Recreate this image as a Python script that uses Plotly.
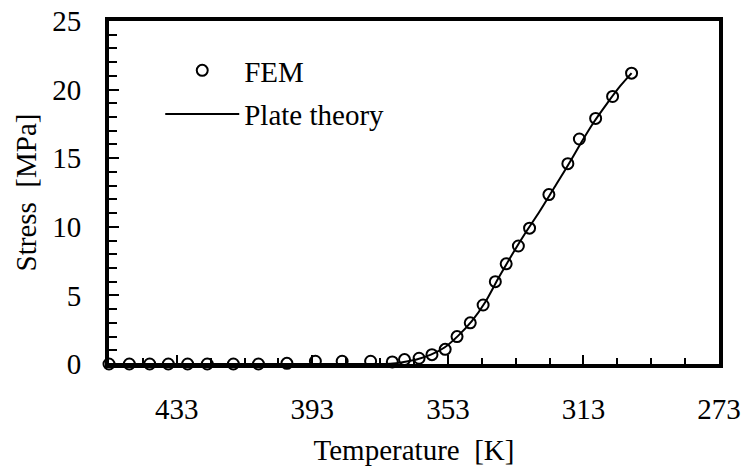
import plotly.graph_objects as go

# FEM results: temperature [K] and stress [MPa]
fem_T = [453, 447, 441, 435.5, 429.8, 424, 416.3, 408.9, 400.5, 392.1, 384.2, 375.8,
         369.4, 365.8, 361.5, 357.7, 353.8, 350.3, 346.4, 342.6, 339.0, 335.8,
         332.2, 328.9, 323.2, 317.6, 314.2, 309.4, 304.4, 298.8]
fem_S = [0, 0, 0, 0, 0, 0, 0, 0, 0.05, 0.2, 0.2, 0.2,
         0.15, 0.32, 0.42, 0.68, 1.07, 2.0, 3.0, 4.3, 6.0, 7.3,
         8.6, 9.9, 12.35, 14.6, 16.4, 17.9, 19.5, 21.2]

# Plate theory curve
theory_T = [453, 430, 400, 385, 375, 370, 366, 362, 358, 354, 350, 346, 342, 338,
            334, 330, 326, 322, 318, 314, 310, 306, 302, 298.8]
theory_S = [0, 0, 0, 0, 0, 0.02, 0.15, 0.35, 0.68, 1.2, 2.05, 3.1, 4.5, 6.3,
            8.0, 9.6, 11.1, 12.7, 14.3, 16.0, 17.6, 19.0, 20.3, 21.2]

x_ticks = [433, 393, 353, 313, 273]
y_ticks = [0, 5, 10, 15, 20, 25]

FONT = "Liberation Serif, Times New Roman, serif"

fig = go.Figure()
fig.add_trace(go.Scatter(
    x=fem_T, y=fem_S, mode="markers", name="FEM", legendgroup="a",
    marker=dict(symbol="circle-open", size=11, color="black", line=dict(width=2, color="black")),
    cliponaxis=False,
))
fig.add_trace(go.Scatter(
    x=theory_T, y=theory_S, mode="lines", name="Plate theory", legendgroup="b",
    line=dict(color="black", width=2, shape="spline", smoothing=0.6),
))

fig.update_layout(
    width=744, height=473,
    margin=dict(l=109, r=25, t=21, b=109),
    paper_bgcolor="white", plot_bgcolor="white",
    font=dict(family=FONT, size=29, color="black"),
    showlegend=True,
    legend=dict(x=0.084, y=0.93, xanchor="left", yanchor="top",
                bgcolor="rgba(0,0,0,0)", tracegroupgap=3,
                font=dict(family=FONT, size=29, color="black"),
                itemwidth=74),
    xaxis=dict(
        range=[453, 273], tickmode="array", tickvals=x_ticks,
        ticks="inside", ticklen=9, tickwidth=1.5, tickcolor="black",
        minor=dict(ticks="inside", ticklen=6, tickwidth=1.5, tickcolor="black", dtick=10, tick0=273),
        showline=True, linewidth=4, linecolor="black", mirror=True,
        showgrid=False, zeroline=False, automargin=False,
        ticklabelstandoff=16, ticklabeloverflow="allow",
        title=dict(text="Temperature  [K]", standoff=17, font=dict(family=FONT, size=29)),
        tickfont=dict(family=FONT, size=29),
    ),
    yaxis=dict(
        range=[0, 25], tickmode="array", tickvals=y_ticks,
        ticks="inside", ticklen=10, tickwidth=1.5, tickcolor="black",
        minor=dict(ticks="inside", ticklen=8, tickwidth=1.5, tickcolor="black", dtick=1, tick0=0),
        showline=True, linewidth=4, linecolor="black", mirror=True,
        showgrid=False, zeroline=False, automargin=False,
        ticklabelstandoff=18, ticklabeloverflow="allow",
        title=dict(text="Stress  [MPa]", standoff=8, font=dict(family=FONT, size=29)),
        tickfont=dict(family=FONT, size=29),
    ),
)

# remove the default 8 px page margin so the figure fills the window exactly
fig.write_html("out.html", config={"displayModeBar": False},
               post_script="document.body.style.margin='0';")
